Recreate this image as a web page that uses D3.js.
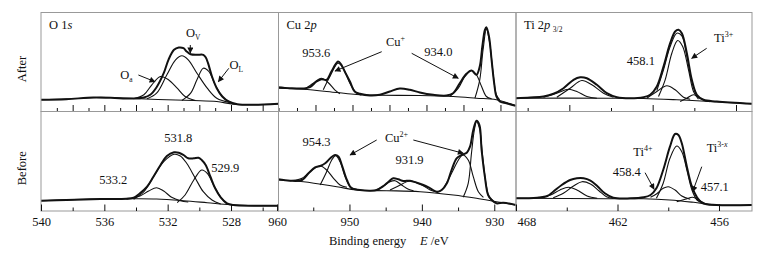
<!DOCTYPE html>
<html>
<head>
<meta charset="utf-8">
<script src="https://cdn.jsdelivr.net/npm/d3@7"></script>
<style>
  body { margin: 0; background: #fff; }
  svg text { font-family: "Liberation Serif", "Times New Roman", serif; fill: #111; }
  .frame { fill: none; stroke: #999; stroke-width: 1; }
  .raw { fill: none; stroke: #111; stroke-width: 2; stroke-linejoin: round; }
  .comp { fill: none; stroke: #111; stroke-width: 1.1; }
  .arrow { stroke: #111; stroke-width: 1; }
</style>
</head>
<body>
<div id="container"></div>
<script>
/* DATA : [binding energy (eV), intensity (a.u.)] */

// O 1s, after
const oAfterRaw = [[540,11.7],[538.4,12.3],[536.7,14],[535.6,13.7],[534.15,13],[533.5,14],[533.1,16.7],[532.7,24.3],[532.25,38.3],[531.95,51.7],[531.6,61.7],[531.3,64],[531.0,63.3],[530.8,60],[530.55,57.3],[530.15,56.7],[529.75,56.7],[529.6,54.3],[529.45,48.3],[529.2,35],[528.9,23.3],[528.55,15],[528.15,10],[527.6,7.3],[526.55,6.7],[525,7.7]]
const oAfterOa = [[534.15,12.7],[533.5,16.7],[533.0,26.7],[532.45,35],[531.95,31.7],[531.4,23.3],[530.9,15],[530.25,11]]
const oAfterOv = [[533.3,12.7],[532.7,18.3],[532.05,36.7],[531.5,51.7],[531.1,55.7],[530.7,51.7],[530.15,38.3],[529.5,23.3],[528.9,13.3],[528.05,9]]
const oAfterOl = [[531.1,11],[530.55,18.3],[530.15,31.7],[529.75,43.3],[529.4,40],[529.0,26.7],[528.55,15],[528.05,9]]
const oAfterBase = [[540,11.7],[537.3,13.3],[536.25,14.3],[535.2,13.7],[533.75,12.7],[532.05,11.7],[530.35,11],[528.9,10],[527.85,7.3],[526.55,6.7],[525,7.7]]

// O 1s, before
const oBeforeRaw = [[540,10.3],[538.4,11],[536.25,12],[534.6,12.3],[534.15,13.3],[533.75,17.7],[533.3,24.3],[532.9,34.3],[532.45,46],[532.05,55],[531.6,58.7],[531.3,58.3],[531.0,56],[530.7,52.7],[530.35,52.7],[530.05,53.3],[529.85,51],[529.6,46],[529.3,34.3],[529.0,22.7],[528.65,13.7],[528.25,7.7],[527.85,6],[526.55,5.3],[525,5.3]]
const oBefore5332 = [[534.6,11.7],[533.75,15],[533.2,20],[532.7,23.3],[532.25,20],[531.75,13.7],[531.2,10.3],[530.7,9]]
const oBefore5318 = [[534.15,11.7],[533.5,19.3],[532.9,34.3],[532.25,49.3],[531.6,56.7],[531.2,55],[530.8,47.7],[530.25,32.7],[529.75,19.3],[529.2,11],[528.65,7]]
const oBefore5299 = [[531.4,8.3],[530.9,16],[530.35,31],[529.85,41],[529.5,37.7],[529.1,26],[528.65,13.7],[528.25,7]]
const oBeforeBase = [[540,10.3],[537.3,11.7],[535.85,12.3],[534.15,12.3],[532.7,12],[531.0,10.3],[529.5,8.3],[528.05,6.3],[526.55,5.3],[525,5.3]]

// Cu 2p, after
const cuAfterRaw = [[960.1,24.3],[958.45,23.3],[956.65,23],[955.75,24.3],[954.85,30],[954.2,32.3],[953.5,31.7],[952.85,40],[951.95,50],[951.5,46.7],[951.05,40],[950.35,30],[949.7,20],[949.0,17.7],[947.65,16],[946.3,16.7],[944.95,20],[943.6,23],[942.25,21.7],[940.9,19],[939.1,16.7],[937.3,16],[936.4,18.3],[935.5,28.3],[934.6,37.7],[933.9,41],[933.25,36.7],[932.8,45],[932.45,65],[932.1,81.7],[931.9,84.3],[931.55,75],[931.2,51.7],[930.85,28.3],[930.55,15],[930.1,10],[929.2,8.3],[927.95,5.7]]
const cuAfterC1 = [[956.45,22.3],[955.3,28.3],[954.2,33.3],[953.3,29],[952.4,21.7],[951.7,17.7]]
const cuAfterC2 = [[953.95,21.7],[953.05,35],[951.95,48.3],[951.25,43.3],[950.35,28.3],[949.45,18.3],[948.8,16.3]]
const cuAfterC3 = [[936.85,15],[935.7,23.3],[934.8,35],[933.9,41],[933.25,36.7],[932.55,25],[931.9,15],[931.2,12.7]]
const cuAfterC4 = [[933.45,13.3],[932.8,31.7],[932.35,61.7],[931.9,82.3],[931.45,68.3],[931.0,38.3],[930.55,16.7],[930.1,11.7]]
const cuAfterBase = [[960.1,23.3],[956.65,22.3],[952.15,19],[949.45,17],[946.3,16.3],[940.9,16],[936.4,15],[933.25,13.3],[930.55,11.7],[927.95,5.7]]

// Cu 2p, before
const cuBeforeRaw = [[959.85,31.7],[958.2,30.3],[956.55,31],[955.65,37.7],[954.75,43.7],[954.05,45],[953.35,47.7],[952.65,52.7],[952.0,56],[951.5,54.3],[951.05,46],[950.35,31],[949.7,22.7],[948.55,21],[947.15,20.3],[946.25,21],[945.3,25],[944.6,29.3],[943.95,32.7],[943.25,31.7],[942.55,30],[941.65,30.3],[940.7,28.3],[939.8,26],[938.85,22.7],[937.95,19.3],[937.25,21],[936.55,27.7],[935.9,41],[935.2,52.7],[934.5,56],[933.8,58.3],[933.35,64.3],[932.9,81],[932.45,90.3],[932.05,86],[931.75,61],[931.3,34.3],[930.85,16],[930.35,11],[929.7,7.7],[928.75,8.3],[927,6]]
const cuBeforeC1 = [[958.2,30.3],[956.55,32.7],[955.45,39.3],[954.05,45],[953.15,41],[952.2,32.7],[951.3,26],[950.35,23.7]]
const cuBeforeC2 = [[954.05,26],[953.15,39.3],[952.45,51],[951.9,55.3],[951.3,49.3],[950.6,34.3],[949.9,24.3],[949,21.7]]
const cuBeforeC3 = [[946.25,21],[945.3,25],[944.4,29.3],[943.7,30.3],[942.8,26],[941.85,21.7],[941.15,20.3]]
const cuBeforeC4 = [[944.4,21],[943.25,25],[941.65,30],[940,26],[938.85,21],[937.95,19]]
const cuBeforeC5 = [[937.95,18.3],[937.05,22.7],[935.9,37.7],[934.95,51],[934.35,56],[933.6,51],[932.9,34.3],[932.2,19.3],[931.5,13.7]]
const cuBeforeC6 = [[934.3,13.7],[933.6,27.7],[933.15,57.7],[932.75,81],[932.45,89.3],[932.05,82.7],[931.6,54.3],[931.15,27.7],[930.7,13.7],[930.15,10.3]]
const cuBeforeBase = [[959.85,31],[956.35,29.3],[951.75,24.3],[949,21],[944.85,20.3],[940.25,19.3],[935.65,16],[932.45,12.7],[929.7,9.3],[927,6]]

// Ti 2p3/2, after
const tiAfterRaw = [[468.2,13.3],[467.35,14],[466.55,15],[465.95,17.7],[465.35,23.3],[464.75,31.7],[464.35,34.3],[463.95,33.3],[463.35,26.7],[462.75,18.3],[462.15,14.3],[461.35,13.3],[460.55,14.3],[460.15,16.7],[459.75,25],[459.35,45],[458.95,68.3],[458.65,80],[458.45,81.7],[458.25,78.3],[457.95,58.3],[457.65,31.7],[457.35,16.7],[456.95,11.7],[456.15,10],[454.05,7.7]]
const tiAfterFit = [[459.75,21],[459.35,41.7],[458.95,65],[458.55,78.3],[458.25,75.7],[457.95,55.7],[457.65,30],[457.35,15.7]]
const tiAfterL1 = [[466.55,14.3],[465.75,18.3],[465.05,22.3],[464.55,20],[463.95,15],[463.35,13.3]]
const tiAfterL2 = [[465.75,14.3],[464.95,23.3],[464.25,31],[463.65,26.7],[462.95,18.3],[462.35,14.3]]
const tiAfterTi3 = [[460.35,13.3],[459.75,20],[459.15,25.7],[458.65,21.7],[458.15,14.3],[457.75,12.3]]
const tiAfterMain = [[459.65,15],[459.25,31.7],[458.85,58.3],[458.5,71],[458.2,65],[457.85,41.7],[457.55,20],[457.25,12.3]]
const tiAfterR = [[458.35,10],[457.95,13.3],[457.55,16.7],[457.25,14.3],[456.85,10.7],[456.55,9.7]]
const tiAfterBase = [[468.2,13.3],[462.55,13.3],[460.55,13],[458.55,11.7],[456.55,10],[454.05,7.7]]

// Ti 2p3/2, before
const tiBeforeRaw = [[468,12.7],[466.75,13.3],[466.15,15],[465.8,19.3],[465.3,26],[464.8,31],[464.4,32.7],[464.0,32.7],[463.6,30.3],[463.2,25],[462.75,17.7],[462.25,13.3],[461.25,12.7],[460.45,13.7],[460.05,16],[459.7,22.7],[459.3,41],[458.9,64.3],[458.6,77],[458.4,76],[458.2,67.7],[457.9,44.3],[457.6,24.3],[457.3,13.7],[456.95,7.7],[456.15,6],[454.05,6]]
const tiBeforeL1 = [[466.55,13.7],[465.95,16],[465.4,21],[464.9,23.7],[464.4,21],[463.8,15],[463.2,12.7]]
const tiBeforeL2 = [[465.8,13.3],[465.2,17.7],[464.6,25],[464.1,29.3],[463.6,27],[463.1,20.3],[462.65,14.3],[462.25,12.7]]
const tiBeforeTi4 = [[460.05,13.7],[459.7,17],[459.3,22.7],[459,24.3],[458.6,21],[458.2,15],[457.7,11.7]]
const tiBeforeMain = [[459.7,12.7],[459.3,27.7],[458.9,52.7],[458.5,65],[458.2,59.3],[457.9,41],[457.6,21],[457.3,11],[457,8.3]]
const tiBeforeTi3x = [[458.5,9.3],[458,11.7],[457.55,13.7],[457.2,11],[456.75,7],[456.15,6]]
const tiBeforeBase = [[468,12.7],[462.45,12.3],[460.45,12.3],[458.9,11],[457.5,8.7],[456.15,6],[454.05,6]]

// annotations: text at [energy, intensity]; arrows from -> to
const oAfterNotes = [{ t: "O", sub: "a", at: [535.0, 32.2] }, { t: "O", sub: "V", at: [530.84, 74.5] }, { t: "O", sub: "L", at: [528.1, 42.5] }]
const oAfterArrows = [[[530.57, 66.5], [530.57, 58.5]], [[528.14, 43.2], [528.8, 29.8]], [[533.85, 36.5], [532.8, 29.8]]]
const cuAfterNotes = [{ t: "953.6", at: [954.9, 54.2], mid: true }, { t: "Cu", sup: "+", at: [945.47, 65.5] }, { t: "934.0", at: [938.4, 55.5], mid: true }]
const cuAfterArrows = [[[946.05, 59.8], [952.36, 40.5]], [[942, 58.2], [935.7, 33.2]]]
const tiAfterNotes = [{ t: "458.1", at: [460.71, 46.2], mid: true }, { t: "Ti", sup: "3+", at: [456.32, 69.8] }]
const tiAfterArrows = [[[456.76, 63.2], [457.66, 53.2]]]
const oBeforeNotes = [{ t: "531.8", at: [531.33, 68.7], mid: true }, { t: "529.9", at: [528.36, 38.7], mid: true }, { t: "533.2", at: [535.44, 27], mid: true }]
const cuBeforeNotes = [{ t: "954.3", at: [954.55, 65.3], mid: true }, { t: "Cu", sup: "2+", at: [945.09, 69.3] }, { t: "931.9", at: [941.71, 47], mid: true }]
const cuBeforeArrows = [[[946.24, 71], [949.92, 56]], [[941.18, 71], [934.27, 57.7]]]
const tiBeforeNotes = [{ t: "Ti", sup: "4+", at: [461.07, 55] }, { t: "Ti", sup: "3-", supI: "x", at: [456.73, 59] }, { t: "458.4", at: [461.45, 35.3], mid: true }, { t: "457.1", at: [456.25, 20], mid: true }]
const tiBeforeArrows = [[[460.37, 38.3], [459.84, 21.7]], [[457.02, 44.3], [457.56, 19.3]]]

const rowNames = ["After", "Before"]

/* LAYOUT */
const width = 763, height = 255
const colX = [41, 278.5, 516, 752]
const rowY = [12.5, 111.5, 211]
const fs = 12.5

const panels = [
  { col: 0, row: 0, domain: [540, 525], major: d3.range(538, 525, -2), minor: d3.range(539, 524, -2),
    raw: oAfterRaw, fit: null, comps: [oAfterOa, oAfterOv, oAfterOl], base: oAfterBase, notes: oAfterNotes, arrows: oAfterArrows,
    title: [["O 1", false], ["s", true]] },
  { col: 1, row: 0, domain: [960, 927.9], major: d3.range(955, 929, -5), minor: d3.range(957.5, 929, -5),
    raw: cuAfterRaw, fit: null, comps: [cuAfterC1, cuAfterC2, cuAfterC3, cuAfterC4], base: cuAfterBase, notes: cuAfterNotes, arrows: cuAfterArrows,
    title: [["Cu 2", false], ["p", true]] },
  { col: 2, row: 0, domain: [468.2, 454.04], major: [465, 460, 455], minor: [467.5, 462.5, 457.5],
    raw: tiAfterRaw, fit: tiAfterFit, comps: [tiAfterL1, tiAfterL2, tiAfterTi3, tiAfterMain, tiAfterR], base: tiAfterBase, notes: tiAfterNotes, arrows: tiAfterArrows,
    title: [["Ti 2", false], ["p", true]], titleSub: "3/2" },
  { col: 0, row: 1, domain: [540, 525], major: [540, 536, 532, 528], minor: [538, 534, 530, 526], labels: true,
    raw: oBeforeRaw, fit: null, comps: [oBefore5332, oBefore5318, oBefore5299], base: oBeforeBase, notes: oBeforeNotes, arrows: [] },
  { col: 1, row: 1, domain: [959.8, 927], major: [960, 950, 940, 930], minor: [955, 945, 935], labels: true,
    raw: cuBeforeRaw, fit: null, comps: [cuBeforeC1, cuBeforeC2, cuBeforeC3, cuBeforeC4, cuBeforeC5, cuBeforeC6], base: cuBeforeBase, notes: cuBeforeNotes, arrows: cuBeforeArrows },
  { col: 2, row: 1, domain: [468, 454.05], major: [468, 462, 456], minor: [465, 459], labels: true,
    raw: tiBeforeRaw, fit: null, comps: [tiBeforeL1, tiBeforeL2, tiBeforeTi4, tiBeforeMain, tiBeforeTi3x], base: tiBeforeBase, notes: tiBeforeNotes, arrows: tiBeforeArrows }
]

/* SVG */
const svg = d3.select("#container").append("svg")
  .attr("width", width)
  .attr("height", height)

const defs = svg.append("defs")
defs.append("marker")
  .attr("id", "head")
  .attr("viewBox", "0 0 10 10")
  .attr("refX", 9).attr("refY", 5)
  .attr("markerWidth", 7).attr("markerHeight", 6)
  .attr("markerUnits", "userSpaceOnUse")
  .attr("orient", "auto")
  .append("path")
  .attr("d", "M0,0L10,5L0,10z")
  .attr("fill", "#111")

panels.forEach((p, i) => {
  const x0 = colX[p.col], x1 = colX[p.col + 1]
  const y0 = rowY[p.row], y1 = rowY[p.row + 1]

  const xScale = d3.scaleLinear().domain(p.domain).range([x0, x1])
  const yScale = d3.scaleLinear().domain([0, y1 - y0]).range([y1, y0])

  const lineGen = d3.line()
    .x(d => xScale(d[0]))
    .y(d => yScale(d[1]))
    .curve(d3.curveCatmullRom.alpha(0.5))

  defs.append("clipPath").attr("id", "clip" + i)
    .append("rect").attr("x", x0).attr("y", y0).attr("width", x1 - x0).attr("height", y1 - y0)

  const g = svg.append("g").attr("clip-path", `url(#clip${i})`)

  // components + baseline
  g.selectAll(".comp")
    .data([p.base, ...p.comps])
    .join("path")
    .attr("class", "comp")
    .attr("d", d => lineGen(d))

  if (p.fit) {
    g.append("path").attr("class", "comp").attr("d", lineGen(p.fit))
  }

  // measured spectrum
  g.append("path")
    .datum(p.raw)
    .attr("class", "raw")
    .attr("d", d => lineGen(d))

  // frame
  svg.append("rect")
    .attr("class", "frame")
    .attr("x", x0).attr("y", y0)
    .attr("width", x1 - x0).attr("height", y1 - y0)

  // ticks pointing up into the panel
  svg.append("g")
    .attr("transform", `translate(0,${y1})`)
    .call(d3.axisBottom(xScale).tickValues(p.minor).tickSizeInner(-3.5).tickSizeOuter(0).tickFormat(""))
    .call(ax => ax.select(".domain").remove())
    .call(ax => ax.selectAll("line").attr("stroke", "#111"))

  const major = svg.append("g")
    .attr("transform", `translate(0,${y1})`)
    .call(d3.axisBottom(xScale).tickValues(p.major).tickSizeInner(-6.5).tickSizeOuter(0).tickPadding(6)
      .tickFormat(p.labels ? d3.format("d") : ""))
    .call(ax => ax.select(".domain").remove())
    .call(ax => ax.selectAll("line").attr("stroke", "#111"))

  major.attr("font-family", null).attr("font-size", fs)
  major.selectAll("text").filter(d => d === 468).attr("text-anchor", "start").attr("x", 1)

  // panel title
  if (p.title) {
    const tt = svg.append("text")
      .attr("x", x0 + 8).attr("y", y0 + 16.5)
      .attr("font-size", fs)
    p.title.forEach(([s, it]) => tt.append("tspan").attr("font-style", it ? "italic" : null).text(s))
    if (p.titleSub) {
      tt.append("tspan").attr("font-size", 7.5).attr("dx", 2.5).attr("dy", 2.5).text(p.titleSub)
    }
  }

  // annotations
  p.notes.forEach(n => {
    const t = svg.append("text")
      .attr("x", xScale(n.at[0])).attr("y", yScale(n.at[1]))
      .attr("font-size", fs)
      .attr("text-anchor", n.mid ? "middle" : "start")
    t.append("tspan").text(n.t)
    if (n.sub) t.append("tspan").attr("font-size", 7.5).attr("dy", 2.5).text(n.sub)
    if (n.sup) t.append("tspan").attr("font-size", 8).attr("dy", -5).text(n.sup)
    if (n.supI) t.append("tspan").attr("font-size", 8).attr("font-style", "italic").text(n.supI)
  })

  svg.selectAll(null)
    .data(p.arrows)
    .join("line")
    .attr("class", "arrow")
    .attr("x1", d => xScale(d[0][0])).attr("y1", d => yScale(d[0][1]))
    .attr("x2", d => xScale(d[1][0])).attr("y2", d => yScale(d[1][1]))
    .attr("marker-end", "url(#head)")
})

// row labels
rowNames.forEach((name, r) => {
  const cy = (rowY[r] + rowY[r + 1]) / 2 + 7
  svg.append("text")
    .attr("transform", `translate(25.5,${cy}) rotate(-90)`)
    .attr("text-anchor", "middle")
    .attr("font-size", fs)
    .text(name)
})

// x-axis title
const xt = svg.append("text")
  .attr("x", 329).attr("y", 244.5)
  .attr("font-size", fs)
xt.append("tspan").text("Binding energy")
xt.append("tspan").attr("x", 420).attr("font-style", "italic").text("E")
xt.append("tspan").text(" /eV")
</script>
</body>
</html>
